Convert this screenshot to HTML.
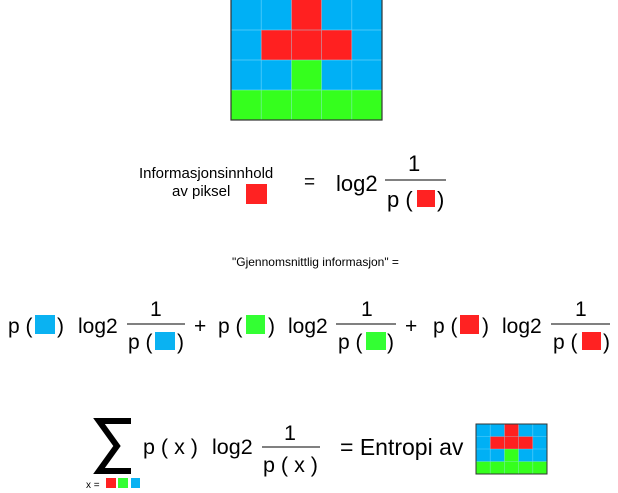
<!DOCTYPE html>
<html><head><meta charset="utf-8"><style>
html,body{margin:0;padding:0;background:#fff;}
svg{display:block;font-family:"Liberation Sans",Arial,sans-serif;}
</style></head><body>
<svg width="618" height="493" viewBox="0 0 618 493" xmlns="http://www.w3.org/2000/svg">
<defs>
<g id="grid">
<rect x="0" y="0" width="5" height="4" fill="#00b0f5"/>
<rect x="2" y="0" width="1" height="1" fill="#ff2020"/>
<rect x="1" y="1" width="3" height="1" fill="#ff2020"/>
<rect x="2" y="2" width="1" height="1" fill="#35ff1d"/>
<rect x="0" y="3" width="5" height="1" fill="#35ff1d"/>
</g>
</defs>
<g transform="translate(231,0) scale(30.2,30)"><use href="#grid"/></g>
<g stroke="#9fe8ff" stroke-width="0.7" opacity="0.6">
<line x1="261.2" y1="0" x2="261.2" y2="120"/><line x1="291.4" y1="0" x2="291.4" y2="120"/>
<line x1="321.6" y1="0" x2="321.6" y2="120"/><line x1="351.8" y1="0" x2="351.8" y2="120"/>
<line x1="231" y1="30" x2="382" y2="30"/><line x1="231" y1="60" x2="382" y2="60"/><line x1="231" y1="90" x2="382" y2="90"/>
</g>
<rect x="231" y="-1" width="151" height="121" fill="none" stroke="#333" stroke-width="1.2"/>

<g font-size="15" fill="#000">
<text x="139" y="178">Informasjonsinnhold</text>
<text x="172" y="196">av piksel</text>
</g>
<rect x="246" y="184" width="21" height="20" fill="#f22"/>
<text x="304" y="188" font-size="19">=</text>
<text x="336" y="191" font-size="22">log2</text>
<text x="408" y="171" font-size="22">1</text>
<line x1="385" y1="180" x2="446" y2="180" stroke="#000" stroke-width="1"/>
<text x="387" y="207" font-size="22">p (</text>
<rect x="417" y="190" width="18" height="17" fill="#f22"/>
<text x="437" y="207" font-size="22">)</text>

<text x="232" y="266" font-size="12">"Gjennomsnittlig informasjon" =</text>

<g font-size="21">
<text x="8" y="333">p (</text><rect x="35" y="315" width="20" height="19" fill="#0ab2f2"/><text x="57" y="333">)</text>
<text x="78" y="333">log2</text>
<text x="150" y="316">1</text>
<text x="128" y="349">p (</text><rect x="155" y="332" width="20" height="18" fill="#0ab2f2"/><text x="177" y="349">)</text>
<text x="194" y="333">+</text>
<text x="218" y="333">p (</text><rect x="246" y="315" width="19" height="19" fill="#3f3"/><text x="268" y="333">)</text>
<text x="288" y="333">log2</text>
<text x="361" y="316">1</text>
<text x="338" y="349">p (</text><rect x="366" y="332" width="20" height="18" fill="#3f3"/><text x="387" y="349">)</text>
<text x="405" y="333">+</text>
<text x="433" y="333">p (</text><rect x="460" y="315" width="19" height="19" fill="#f22"/><text x="482" y="333">)</text>
<text x="502" y="333">log2</text>
<text x="575" y="316">1</text>
<text x="553" y="349">p (</text><rect x="582" y="332" width="19" height="18" fill="#f22"/><text x="603" y="349">)</text>
</g>
<g stroke="#000" stroke-width="1">
<line x1="127" y1="324" x2="185" y2="324"/>
<line x1="336" y1="324" x2="396" y2="324"/>
<line x1="551" y1="324" x2="610" y2="324"/>
</g>

<polyline points="131,421 99,421 117,446 99,471 131,471" fill="none" stroke="#000" stroke-width="6" stroke-linejoin="miter"/>
<text x="86" y="488" font-size="10">x =</text>
<rect x="106" y="478" width="10" height="10" fill="#f22"/>
<rect x="118" y="478" width="10" height="10" fill="#3f3"/>
<rect x="131" y="478" width="9" height="10" fill="#0ab2f2"/>
<g font-size="21.5">
<text x="143" y="454">p ( x )</text>
<text x="212" y="454">log2</text>
<text x="284" y="440">1</text>
<text x="263" y="472">p ( x )</text>
<text x="340" y="455" font-size="23">= Entropi av</text>
</g>
<line x1="262" y1="447" x2="320" y2="447" stroke="#000" stroke-width="1"/>
<g transform="translate(476,424) scale(14.2,12.5)"><use href="#grid"/></g>
<g stroke="#9fe8ff" stroke-width="0.6" opacity="0.6">
<line x1="490.2" y1="424" x2="490.2" y2="474"/><line x1="504.4" y1="424" x2="504.4" y2="474"/>
<line x1="518.6" y1="424" x2="518.6" y2="474"/><line x1="532.8" y1="424" x2="532.8" y2="474"/>
<line x1="476" y1="436.5" x2="547" y2="436.5"/><line x1="476" y1="449" x2="547" y2="449"/><line x1="476" y1="461.5" x2="547" y2="461.5"/>
</g>
<rect x="476" y="424" width="71" height="50" fill="none" stroke="#333" stroke-width="1"/>
</svg>
</body></html>
